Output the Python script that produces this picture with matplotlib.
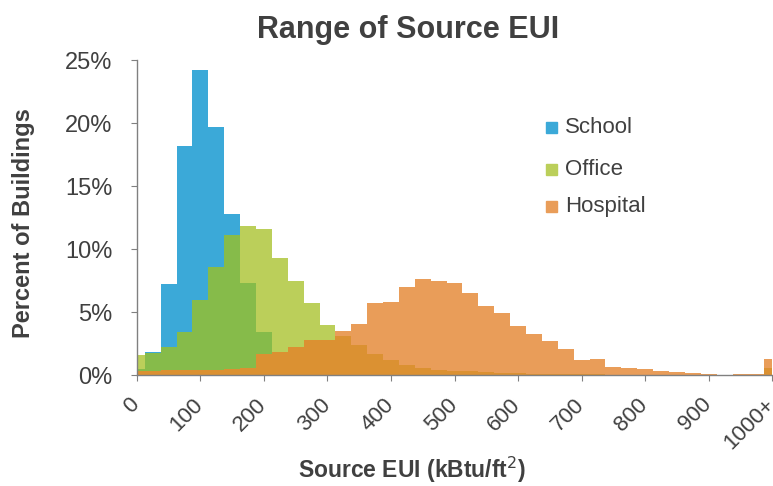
import numpy as np
import matplotlib
matplotlib.use("Agg")
import matplotlib.pyplot as plt
import matplotlib.transforms as mtrans

plt.rcParams['font.family'] = ['Liberation Sans', 'DejaVu Sans']

# bins centred every 25 kBtu/ft2, last bin is 1000+
bins = np.arange(0, 1001, 25)

school = [0.5, 1.85, 7.2, 18.2, 24.2, 19.7, 12.8, 7.3, 3.4, 1.0,
          0.6, 0.4, 0.3, 0.2, 0.15, 0.1, 0.1, 0.05, 0.05, 0.05,
          0.05, 0.0, 0.0, 0.0, 0.0, 0.0, 0.0, 0.0, 0.0, 0.0,
          0.0, 0.0, 0.0, 0.0, 0.0, 0.0, 0.0, 0.0, 0.0, 0.0, 0.2]
office = [1.6, 1.75, 2.25, 3.4, 6.0, 8.6, 11.1, 11.85, 11.6, 9.3,
          7.5, 5.7, 4.0, 3.15, 2.4, 1.7, 1.2, 0.8, 0.6, 0.45,
          0.35, 0.3, 0.25, 0.2, 0.15, 0.1, 0.1, 0.08, 0.07, 0.06,
          0.05, 0.05, 0.04, 0.03, 0.03, 0.02, 0.02, 0.02, 0.02, 0.02, 0.6]
hospital = [0.35, 0.35, 0.4, 0.45, 0.4, 0.45, 0.5, 0.6, 1.7, 1.85,
            2.2, 2.8, 2.8, 3.5, 4.1, 5.75, 5.8, 7.0, 7.6, 7.45,
            7.35, 6.5, 5.5, 4.9, 3.9, 3.25, 2.7, 2.07, 1.2, 1.25,
            0.65, 0.55, 0.5, 0.3, 0.25, 0.15, 0.1, 0.05, 0.1, 0.1, 1.3]

xticks = [0, 100, 200, 300, 400, 500, 600, 700, 800, 900, 1000]
xticklabels = ['0', '100', '200', '300', '400', '500', '600', '700', '800', '900', '1000+']
yticks = [0, 5, 10, 15, 20, 25]
yticklabels = ['0%', '5%', '10%', '15%', '20%', '25%']

blue = '#3ba9d8'
lgreen = '#bbcf5a'
dgreen = '#86bb4a'
lorange = '#e99d59'
dorange = '#db9132'
grey = '#404040'

s = np.array(school)
o = np.array(office)
h = np.array(hospital)

fig = plt.figure(figsize=(7.73, 4.86), dpi=100)
ax = fig.add_axes([0.177, 0.228, 0.822, 0.648])

w = 25
ax.bar(bins, s, width=w, color=blue, linewidth=0)
ax.bar(bins, o, width=w, color=lgreen, linewidth=0)
ax.bar(bins, np.minimum(s, o), width=w, color=dgreen, linewidth=0)
ax.bar(bins, h, width=w, color=lorange, linewidth=0)
ax.bar(bins, np.minimum(h, np.maximum(s, o)), width=w, color=dorange, linewidth=0)

ax.set_xlim(0, 1000)
ax.set_ylim(0, 25)
ax.set_yticks(yticks)
ax.set_yticklabels(yticklabels)
ax.set_xticks(xticks)
ax.set_xticklabels(xticklabels, rotation=45, ha='right', va='top')

for sp in ['top', 'right']:
    ax.spines[sp].set_visible(False)
for sp in ['left', 'bottom']:
    ax.spines[sp].set_color('#808080')
    ax.spines[sp].set_linewidth(1)
ax.tick_params(axis='both', colors='#808080', labelcolor=grey, length=4.5)
ax.tick_params(axis='y', labelsize=17, pad=13)
ax.tick_params(axis='x', labelsize=16, pad=9)

# nudge rotated labels so their top-right corner sits at the tick
off = mtrans.ScaledTranslation(7 / 100, 0, fig.dpi_scale_trans)
for lab in ax.get_xticklabels():
    lab.set_transform(lab.get_transform() + off)

fig.text(0.03, 0.541, 'Percent of Buildings', rotation=90, ha='center', va='center',
         fontsize=17, fontweight='bold', color=grey)
fig.text(0.533, 0.0165, 'Source EUI (kBtu/ft$^2$)', ha='center', va='baseline',
         fontsize=16.5, fontweight='bold', color=grey)
fig.text(0.5285, 0.922, 'Range of Source EUI', ha='center', va='baseline',
         fontsize=22, fontweight='bold', color=grey)

# legend
legend_items = [('School', blue), ('Office', lgreen), ('Hospital', lorange)]
legend_y = [0.7377, 0.652, 0.576]
for (lab, c), yy in zip(legend_items, legend_y):
    fig.patches.append(plt.Rectangle((0.7063, yy - 0.0113), 0.0142, 0.0226,
                                     color=c, transform=fig.transFigure))
    fig.text(0.731, yy, lab, fontsize=16, color=grey, va='center')

fig.savefig('out.png', dpi=100)
